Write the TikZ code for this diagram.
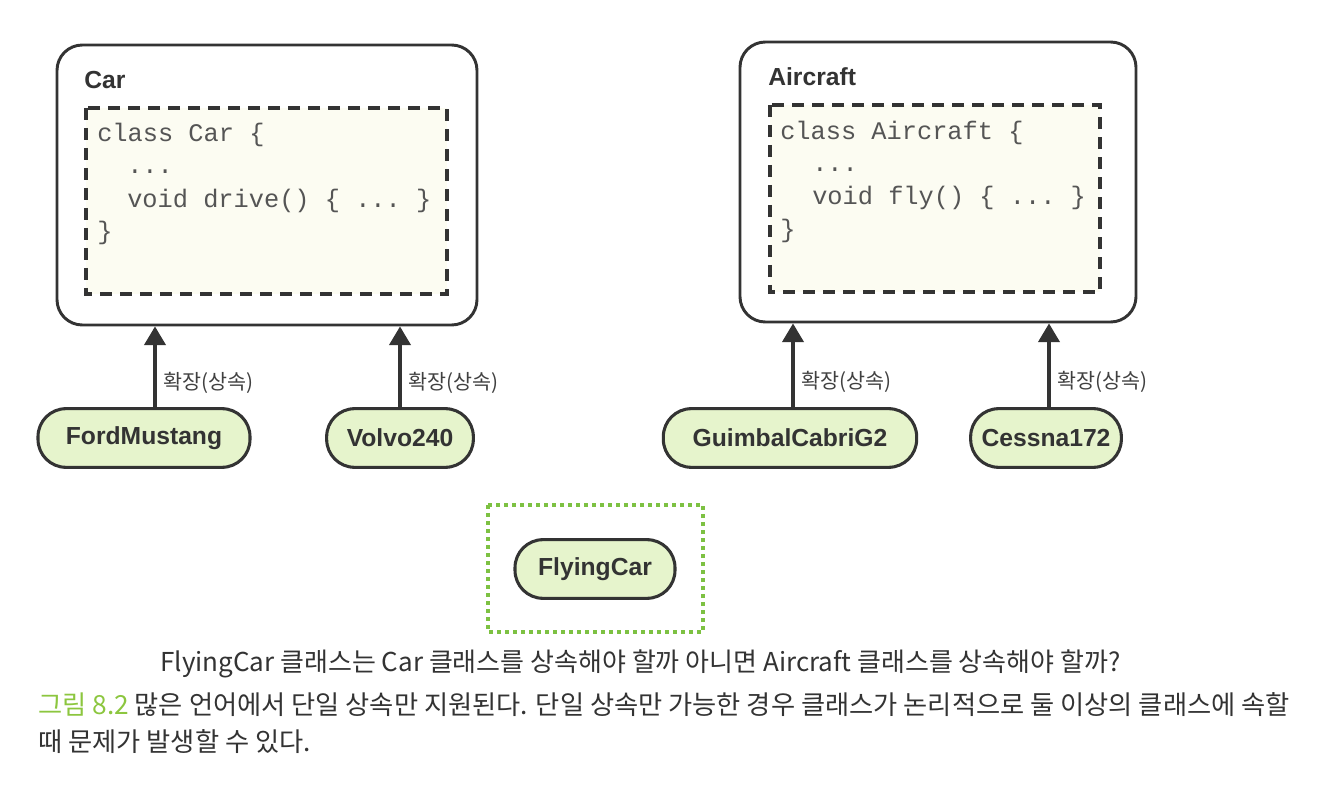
\documentclass[tikz,border=0pt]{standalone}
\usepackage{fontspec}
\setmainfont{Liberation Sans}
\setmonofont{Liberation Mono}
\newfontfamily\kr{Noto Sans CJK KR}
\usetikzlibrary{arrows.meta}
\definecolor{nodefill}{HTML}{E6F4CC}
\definecolor{linecol}{HTML}{333333}
\definecolor{dotgreen}{HTML}{7DC142}
\definecolor{capgreen}{HTML}{8CC63F}
\definecolor{codecol}{HTML}{555555}
\definecolor{codefill}{HTML}{FCFCF2}
\tikzset{
  classbox/.style={draw=linecol, line width=2.2pt, rounded corners=19pt, fill=white},
  codebox/.style={draw=linecol, line width=2.3pt, dash pattern=on 9pt off 6pt, fill=codefill},
  classname/.style={anchor=west, font=\bfseries\fontsize{18.5}{20}\selectfont, text=linecol, inner sep=0pt},
  codeline/.style={anchor=base west, font=\ttfamily\fontsize{19}{20}\selectfont, text=codecol, inner sep=0pt},
  pill/.style={draw=linecol, line width=2.3pt, fill=nodefill, rounded corners=21pt, minimum height=44pt,
    font=\bfseries\fontsize{18.5}{20}\selectfont, text=linecol, inner sep=0pt},
  inh/.style={draw=linecol, line width=2.3pt, -{Triangle[width=16pt,length=14pt]}},
  inhlabel/.style={font=\kr\fontsize{15.5}{17}\selectfont, text=black!75, anchor=west, inner sep=0pt, xshift=5pt},
  caption/.style={font=\kr\fontsize{19.5}{22}\selectfont, text=black!80, anchor=base west, inner sep=0pt},
  bigcaption/.style={caption, font=\kr\fontsize{19.7}{22}\selectfont}
}
\begin{document}
\begin{tikzpicture}[x=0.75pt,y=-0.75pt]
\useasboundingbox (0,0) rectangle (1325,791);
% Car class
\node[classbox, minimum width=315pt, minimum height=210pt] (car) at (267,185) {};
\node[classname] (carname) at (84,80) {Car};
\draw[codebox] (86,108) rectangle (447,294);
\node[codeline] (c1) at (97,142) {class Car \{};
\node[codeline] (c2) at (127,174) {...};
\node[codeline] (c3) at (127,208) {void drive() \{ ... \}};
\node[codeline] (c4) at (97,240) {\}};
% Aircraft class
\node[classbox, minimum width=297pt, minimum height=210pt] (air) at (938,182) {};
\node[classname] (airname) at (768,77) {Aircraft};
\draw[codebox] (770,105) rectangle (1100,292);
\node[codeline] (a1) at (780,140) {class Aircraft \{};
\node[codeline] (a2) at (812,172) {...};
\node[codeline] (a3) at (812,205) {void fly() \{ ... \}};
\node[codeline] (a4) at (780,238) {\}};
% subclasses
\node[pill, minimum width=159pt] (ford) at (144,438) {FordMustang};
\node[pill, minimum width=110pt] (volvo) at (400,438) {Volvo240};
\node[pill, minimum width=190pt] (guimbal) at (790,438) {GuimbalCabriG2};
\node[pill, minimum width=113pt] (cessna) at (1046,438) {Cessna172};
\coordinate (x1) at (155,0);
\coordinate (x2) at (400,0);
\coordinate (x3) at (793,0);
\coordinate (x4) at (1049,0);
\draw[inh] (ford.north -| x1) -- node[pos=0.3, inhlabel] {확장(상속)} (car.south -| x1);
\draw[inh] (volvo.north -| x2) -- node[pos=0.3, inhlabel] {확장(상속)} (car.south -| x2);
\draw[inh] (guimbal.north -| x3) -- node[pos=0.3, inhlabel] {확장(상속)} (air.south -| x3);
\draw[inh] (cessna.north -| x4) -- node[pos=0.3, inhlabel] {확장(상속)} (air.south -| x4);
% FlyingCar
\draw[dotgreen, line width=3pt, dash pattern=on 3pt off 3pt] (488,505) rectangle (703,632);
\node[pill, minimum width=120pt] (flying) at (595,569) {FlyingCar};
% captions
\node[caption] (cap1) at (160,671) {FlyingCar 클래스는 Car 클래스를 상속해야 할까 아니면 Aircraft 클래스를 상속해야 할까?};
\node[bigcaption] (cap2) at (38,714) {\textcolor{capgreen}{그림 8.2} 많은 언어에서 단일 상속만 지원된다. 단일 상속만 가능한 경우 클래스가 논리적으로 둘 이상의 클래스에 속할};
\node[bigcaption] (cap3) at (38,751) {때 문제가 발생할 수 있다.};
\end{tikzpicture}
\end{document}
